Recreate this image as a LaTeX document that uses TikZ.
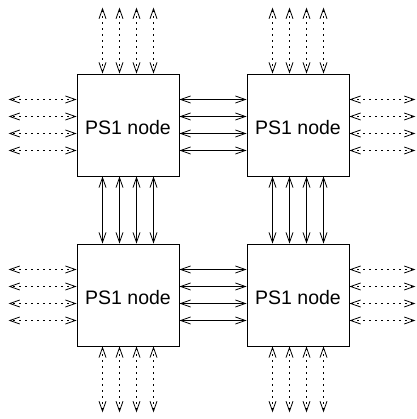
\documentclass[tikz,border=0pt]{standalone}
\usepackage{fontspec}
\setmainfont{Liberation Sans}
\usepackage{tikz}
\usetikzlibrary{arrows.meta}

\begin{document}
\begin{tikzpicture}[x=1pt,y=1pt,line width=.8pt,
    psnode/.style={draw,minimum size=102pt,inner sep=0pt,font=\fontsize{19.5}{20}\selectfont,text height=20pt,text depth=0pt},
    link/.style={{Straight Barb[length=10pt,width=7pt]}-{Straight Barb[length=10pt,width=7pt]}},
    extlink/.style={link,dash pattern=on 1.5pt off 4.5pt}]
    \useasboundingbox (0,0) rectangle (416,419);
    \node[psnode] (tl) at (128,294) {PS1 node};
    \node[psnode] (tr) at (298,294) {PS1 node};
    \node[psnode] (bl) at (128,124) {PS1 node};
    \node[psnode] (br) at (298,124) {PS1 node};
    \foreach \d in {-25.5,-8.5,8.5,25.5}{
      % links between the nodes
      \draw[link] ([yshift=\d]tl.east) -- ([yshift=\d]tr.west);
      \draw[link] ([yshift=\d]bl.east) -- ([yshift=\d]br.west);
      \draw[link] ([xshift=\d]tl.south) -- ([xshift=\d]bl.north);
      \draw[link] ([xshift=\d]tr.south) -- ([xshift=\d]br.north);
      % links to the outside
      \draw[extlink] ([xshift=\d]tl.north) -- ++(0,66);
      \draw[extlink] ([xshift=\d]tr.north) -- ++(0,66);
      \draw[extlink] ([xshift=\d]bl.south) -- ++(0,-66);
      \draw[extlink] ([xshift=\d]br.south) -- ++(0,-66);
      \draw[extlink] ([yshift=\d]tl.west) -- ++(-68,0);
      \draw[extlink] ([yshift=\d]bl.west) -- ++(-68,0);
      \draw[extlink] ([yshift=\d]tr.east) -- ++(66,0);
      \draw[extlink] ([yshift=\d]br.east) -- ++(66,0);
    }
\end{tikzpicture}
\end{document}
